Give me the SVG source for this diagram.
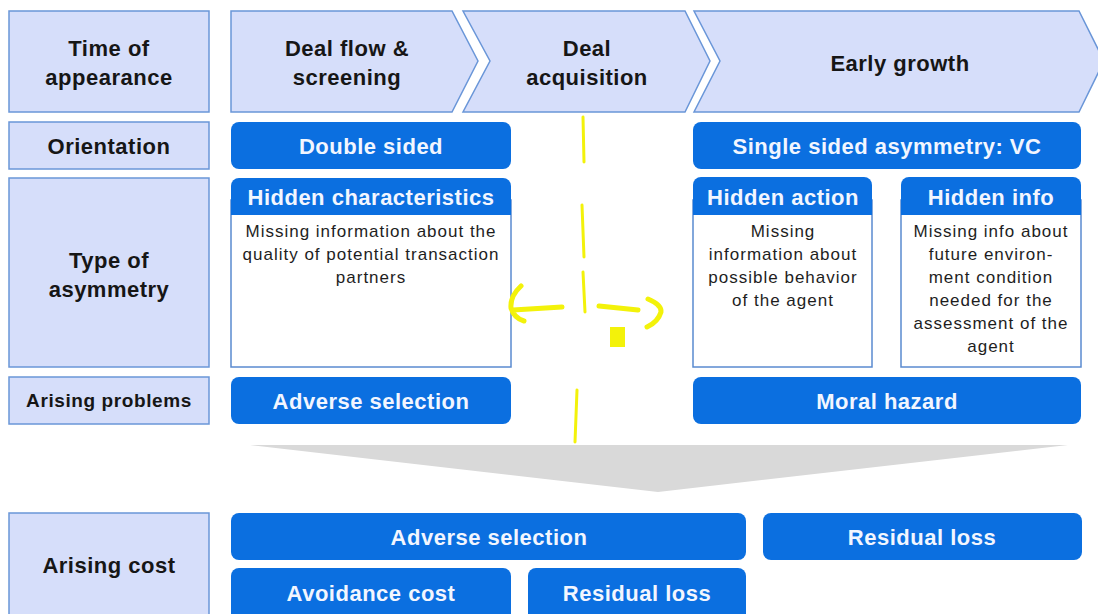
<svg xmlns="http://www.w3.org/2000/svg" width="1098" height="614" viewBox="0 0 1098 614">
<style>
.lbl{fill:#d6defa;stroke:#6a96d8;stroke-width:1.5}
.blue{fill:#0b6fe0}
.body{fill:#ffffff;stroke:#5a8ad0;stroke-width:1.5}
text{font-family:"Liberation Sans",Arial,sans-serif;text-anchor:middle}
.h{font-size:22px;font-weight:bold;fill:#161616;letter-spacing:0.5px}
.w{font-size:22px;font-weight:bold;fill:#f2f6ff;letter-spacing:0.5px}
.t{font-size:17px;fill:#1e1e1e;letter-spacing:1px}
.yl{fill:none;stroke:#f3f20a;stroke-width:5;stroke-linecap:round;stroke-linejoin:round}
</style>
<rect width="1098" height="614" fill="#ffffff"/>

<g id="row-labels">
  <g id="lbl-time"><rect class="lbl" x="9" y="11" width="200" height="101"/><text class="h" x="109" y="56">Time of</text><text class="h" x="109" y="85">appearance</text></g>
  <g id="lbl-orientation"><rect class="lbl" x="9" y="122" width="200" height="47"/><text class="h" x="109" y="154">Orientation</text></g>
  <g id="lbl-type"><rect class="lbl" x="9" y="178" width="200" height="189"/><text class="h" x="109" y="268">Type of</text><text class="h" x="109" y="297">asymmetry</text></g>
  <g id="lbl-problems"><rect class="lbl" x="9" y="377" width="200" height="47"/><text class="h" x="109" y="407" style="font-size:19px;letter-spacing:0.6px">Arising problems</text></g>
  <g id="lbl-cost"><rect class="lbl" x="9" y="513" width="200" height="110"/><text class="h" x="109" y="573">Arising cost</text></g>
</g>

<g id="phase-1"><path class="lbl" d="M231,11 H452 L478,61 L452,112 H231 Z"/><text class="h" x="347" y="56">Deal flow &amp;</text><text class="h" x="347" y="85">screening</text></g>
<g id="phase-2"><path class="lbl" d="M463,11 H685 L710,61 L685,112 H463 L490,61 Z"/><text class="h" x="587" y="56">Deal</text><text class="h" x="587" y="85">acquisition</text></g>
<g id="phase-3"><path class="lbl" d="M694,11 H1079 L1104,61 L1079,112 H694 L720,61 Z"/><text class="h" x="900" y="71">Early growth</text></g>

<g id="double-sided"><rect class="blue" x="231" y="122" width="280" height="47" rx="8"/><text class="w" x="371" y="154">Double sided</text></g>
<g id="single-sided"><rect class="blue" x="693" y="122" width="388" height="47" rx="8"/><text class="w" x="887" y="154">Single sided asymmetry: VC</text></g>

<g id="hidden-characteristics">
  <rect class="body" x="231" y="200" width="280" height="167"/>
  <rect class="blue" x="231" y="178" width="280" height="37" rx="8"/>
  <rect class="blue" x="231" y="200" width="280" height="15"/>
  <text class="w" x="371" y="205">Hidden characteristics</text>
  <text class="t" x="371" y="237">Missing information about the</text>
  <text class="t" x="371" y="260">quality of potential transaction</text>
  <text class="t" x="371" y="283">partners</text>
</g>
<g id="hidden-action">
  <rect class="body" x="693" y="200" width="179" height="167"/>
  <rect class="blue" x="693" y="177" width="179" height="38" rx="8"/>
  <rect class="blue" x="693" y="200" width="179" height="15"/>
  <text class="w" x="783" y="205">Hidden action</text>
  <text class="t" x="783" y="237">Missing</text>
  <text class="t" x="783" y="260">information about</text>
  <text class="t" x="783" y="283">possible behavior</text>
  <text class="t" x="783" y="306">of the agent</text>
</g>
<g id="hidden-info">
  <rect class="body" x="901" y="200" width="180" height="167"/>
  <rect class="blue" x="901" y="177" width="180" height="38" rx="8"/>
  <rect class="blue" x="901" y="200" width="180" height="15"/>
  <text class="w" x="991" y="205">Hidden info</text>
  <text class="t" x="991" y="237">Missing info about</text>
  <text class="t" x="991" y="260">future environ-</text>
  <text class="t" x="991" y="283">ment condition</text>
  <text class="t" x="991" y="306">needed for the</text>
  <text class="t" x="991" y="329">assessment of the</text>
  <text class="t" x="991" y="352">agent</text>
</g>

<g id="adverse-selection-problem"><rect class="blue" x="231" y="377" width="280" height="47" rx="8"/><text class="w" x="371" y="409">Adverse selection</text></g>
<g id="moral-hazard"><rect class="blue" x="693" y="377" width="388" height="47" rx="8"/><text class="w" x="887" y="409">Moral hazard</text></g>

<g id="connectors">
  <path d="M250,445 H1068 L658,492 Z" fill="#d9d9d9"/>
</g>

<g id="adverse-selection-cost"><rect class="blue" x="231" y="513" width="515" height="47" rx="8"/><text class="w" x="489" y="545">Adverse selection</text></g>
<g id="residual-loss-right"><rect class="blue" x="763" y="513" width="319" height="47" rx="8"/><text class="w" x="922" y="545">Residual loss</text></g>
<g id="avoidance-cost"><rect class="blue" x="231" y="568" width="280" height="56" rx="8"/><text class="w" x="371" y="601">Avoidance cost</text></g>
<g id="residual-loss-left"><rect class="blue" x="528" y="568" width="218" height="56" rx="8"/><text class="w" x="637" y="601">Residual loss</text></g>

<g id="annotation">
  <path class="yl" style="stroke-width:3" d="M583,117 L584,162 M582,205 L584,257 M583,272 L585,312 M577,390 L575,442"/>
  <path class="yl" d="M562,307 L513,310 M521,286 Q510,296 511,308 Q514,318 524,321"/>
  <path class="yl" d="M599,306 L638,310 M648,299 Q662,305 661,312 Q658,322 647,327"/>
  <rect x="610" y="327" width="15" height="20" fill="#f3f20a"/>
</g>
</svg>
